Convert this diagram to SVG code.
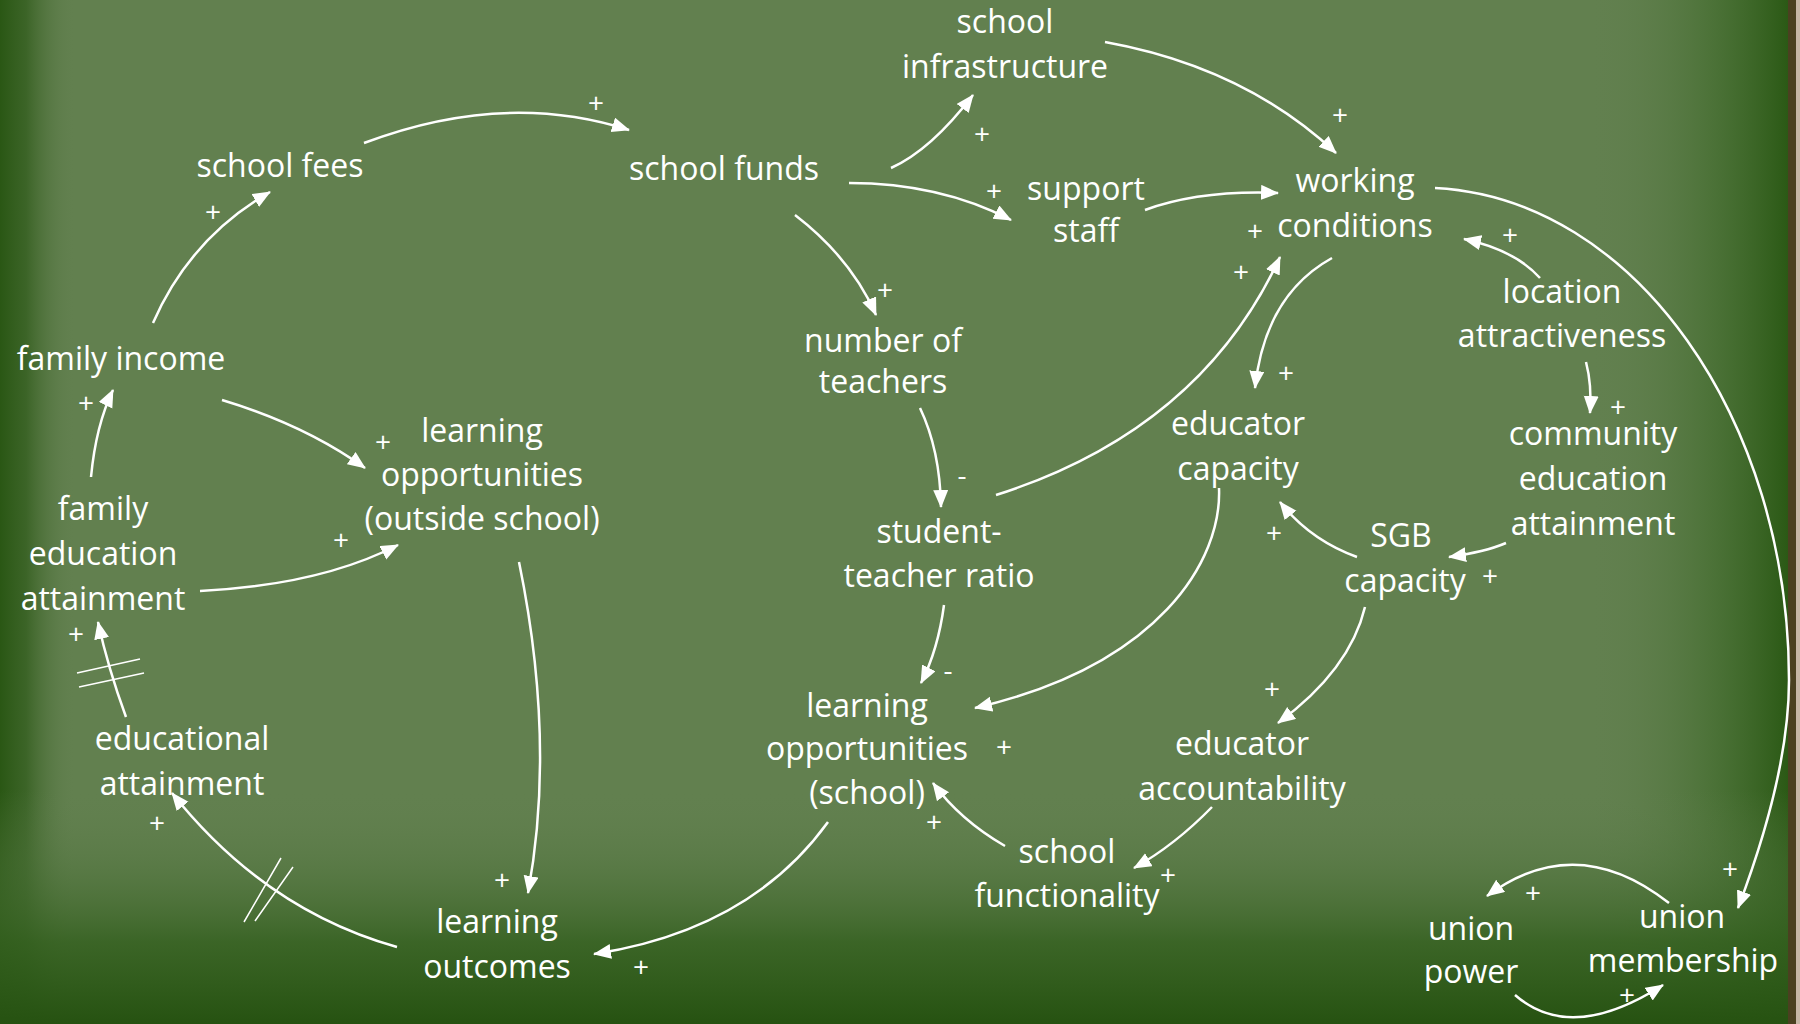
<svg xmlns="http://www.w3.org/2000/svg" width="1800" height="1024" viewBox="0 0 1800 1024">
<defs>
<linearGradient id="gl" x1="0" y1="0" x2="1" y2="0">
<stop offset="0" stop-color="#2a5714" stop-opacity="1"/>
<stop offset="0.35" stop-color="#2f5b1a" stop-opacity="0.75"/>
<stop offset="1" stop-color="#62804f" stop-opacity="0"/>
</linearGradient>
<linearGradient id="gr" x1="0" y1="0" x2="1" y2="0">
<stop offset="0" stop-color="#62804f" stop-opacity="0"/>
<stop offset="0.6" stop-color="#3f6a2a" stop-opacity="0.6"/>
<stop offset="1" stop-color="#2b5915" stop-opacity="1"/>
</linearGradient>
<linearGradient id="gb" x1="0" y1="0" x2="0" y2="1">
<stop offset="0" stop-color="#62804f" stop-opacity="0"/>
<stop offset="0.3" stop-color="#4f733c" stop-opacity="0.4"/>
<stop offset="0.65" stop-color="#34601f" stop-opacity="0.85"/>
<stop offset="1" stop-color="#265211" stop-opacity="1"/>
</linearGradient>
<marker id="ah" markerUnits="userSpaceOnUse" markerWidth="20" markerHeight="16" refX="17" refY="7.5" orient="auto" viewBox="0 0 20 16">
<path d="M0,0 L18,7.5 L0,15 z" fill="#ffffff"/>
</marker>
<style>
.t{font-family:"Open Sans","Noto Sans","Liberation Sans",sans-serif;font-size:32px;fill:#ffffff;text-anchor:middle}
.s{font-family:"Open Sans","Noto Sans","Liberation Sans",sans-serif;font-size:28px;fill:#ffffff;text-anchor:middle}
.c{fill:none;stroke:#ffffff;stroke-width:2.5;marker-end:url(#ah)}
.h{fill:none;stroke:#ffffff;stroke-width:1.5}
</style>
</defs>
<rect x="0" y="0" width="1800" height="1024" fill="#62804f"/>
<rect x="0" y="0" width="75" height="1024" fill="url(#gl)"/>
<rect x="1590" y="0" width="198" height="1024" fill="url(#gr)"/>
<rect x="0" y="790" width="1788" height="234" fill="url(#gb)"/>
<rect x="1788" y="0" width="8" height="1024" fill="#4a4020"/>
<rect x="1796" y="0" width="4" height="1024" fill="#c6b6a6"/>

<g id="connectors">
<path class="c" d="M153,323 Q190,238 270,192"/>
<path class="c" d="M364,143 Q504,90 629,130"/>
<path class="c" d="M891,168 Q931,150 973,95"/>
<path class="c" d="M849,183 Q940,183 1011,220"/>
<path class="c" d="M795,215 Q851,258 876,315"/>
<path class="c" d="M1105,42 Q1244,67 1336,153"/>
<path class="c" d="M1145,210 Q1200,190 1278,193"/>
<path class="c" d="M996,495 Q1200,430 1280,257"/>
<path class="c" d="M1332,258 Q1265,295 1255,388"/>
<path class="c" d="M1540,278 Q1515,250 1464,239"/>
<path class="c" d="M1435,188 C1635,198 1789,420 1789,680 C1789,760 1760,850 1738,908"/>
<path class="c" d="M1586,362 Q1592,385 1590,413"/>
<path class="c" d="M1506,543 Q1485,552 1449,557"/>
<path class="c" d="M1357,557 Q1310,540 1280,502"/>
<path class="c" d="M1219,488 C1222,560 1160,665 975,708"/>
<path class="c" d="M1365,607 Q1350,670 1278,723"/>
<path class="c" d="M1212,807 Q1175,845 1134,868"/>
<path class="c" d="M1005,846 Q960,820 933,783"/>
<path class="c" d="M920,408 Q940,450 941,507"/>
<path class="c" d="M944,605 Q938,650 921,683"/>
<path class="c" d="M828,822 Q750,930 594,954"/>
<path class="c" d="M519,562 Q556,742 528,893"/>
<path class="c" d="M397,947 Q265,910 172,793"/>
<path class="c" d="M126,717 Q108,668 98,622"/>
<path class="c" d="M91,477 Q96,425 113,390"/>
<path class="c" d="M222,400 Q305,425 365,468"/>
<path class="c" d="M200,591 Q320,585 398,545"/>
<path class="c" d="M1669,903 Q1576,830 1487,896"/>
<path class="c" d="M1515,995 Q1571,1044 1663,985"/>
<path class="h" d="M244,922 L281,858 M255,921 L293,867"/>
<path class="h" d="M77,673 L140,659 M79,687 L144,673"/>
</g>

<g id="polarities">
<text class="s" x="596" y="113">+</text>
<text class="s" x="213" y="222">+</text>
<text class="s" x="982" y="144">+</text>
<text class="s" x="994" y="201">+</text>
<text class="s" x="885" y="300">+</text>
<text class="s" x="1340" y="125">+</text>
<text class="s" x="1255" y="241">+</text>
<text class="s" x="1241" y="282">+</text>
<text class="s" x="1510" y="245">+</text>
<text class="s" x="1286" y="383">+</text>
<text class="s" x="1618" y="417">+</text>
<text class="s" x="383" y="452">+</text>
<text class="s" x="341" y="550">+</text>
<text class="s" x="86" y="413">+</text>
<text class="s" x="76" y="644">+</text>
<text class="s" x="1274" y="543">+</text>
<text class="s" x="1490" y="586">+</text>
<text class="s" x="1272" y="699">+</text>
<text class="s" x="1004" y="757">+</text>
<text class="s" x="934" y="832">+</text>
<text class="s" x="1168" y="885">+</text>
<text class="s" x="157" y="833">+</text>
<text class="s" x="502" y="890">+</text>
<text class="s" x="641" y="977">+</text>
<text class="s" x="1730" y="879">+</text>
<text class="s" x="1533" y="903">+</text>
<text class="s" x="1627" y="1005">+</text>
<text class="s" x="962" y="485">-</text>
<text class="s" x="948" y="680">-</text>
</g>

<g id="school_infrastructure"><text class="t"><tspan x="1005" y="33">school</tspan><tspan x="1005" y="78">infrastructure</tspan></text></g>
<g id="school_fees"><text class="t" x="280" y="177">school fees</text></g>
<g id="school_funds"><text class="t" x="724" y="180">school funds</text></g>
<g id="support_staff"><text class="t"><tspan x="1086" y="200">support</tspan><tspan x="1086" y="242">staff</tspan></text></g>
<g id="working_conditions"><text class="t"><tspan x="1355" y="192">working</tspan><tspan x="1355" y="237">conditions</tspan></text></g>
<g id="location_attractiveness"><text class="t"><tspan x="1562" y="303">location</tspan><tspan x="1562" y="347">attractiveness</tspan></text></g>
<g id="family_income"><text class="t" x="121" y="370">family income</text></g>
<g id="number_of_teachers"><text class="t"><tspan x="883" y="352">number of</tspan><tspan x="883" y="393">teachers</tspan></text></g>
<g id="learning_opportunities_outside"><text class="t"><tspan x="482" y="442">learning</tspan><tspan x="482" y="486">opportunities</tspan><tspan x="482" y="530">(outside school)</tspan></text></g>
<g id="family_education_attainment"><text class="t"><tspan x="103" y="520">family</tspan><tspan x="103" y="565">education</tspan><tspan x="103" y="610">attainment</tspan></text></g>
<g id="educator_capacity"><text class="t"><tspan x="1238" y="435">educator</tspan><tspan x="1238" y="480">capacity</tspan></text></g>
<g id="community_education_attainment"><text class="t"><tspan x="1593" y="445">community</tspan><tspan x="1593" y="490">education</tspan><tspan x="1593" y="535">attainment</tspan></text></g>
<g id="student_teacher_ratio"><text class="t"><tspan x="939" y="543">student-</tspan><tspan x="939" y="587">teacher ratio</tspan></text></g>
<g id="sgb_capacity"><text class="t"><tspan x="1401" y="547">SGB</tspan><tspan x="1405" y="592">capacity</tspan></text></g>
<g id="learning_opportunities_school"><text class="t"><tspan x="867" y="717">learning</tspan><tspan x="867" y="760">opportunities</tspan><tspan x="867" y="804">(school)</tspan></text></g>
<g id="educator_accountability"><text class="t"><tspan x="1242" y="755">educator</tspan><tspan x="1242" y="800">accountability</tspan></text></g>
<g id="educational_attainment"><text class="t"><tspan x="182" y="750">educational</tspan><tspan x="182" y="795">attainment</tspan></text></g>
<g id="school_functionality"><text class="t"><tspan x="1067" y="863">school</tspan><tspan x="1067" y="907">functionality</tspan></text></g>
<g id="learning_outcomes"><text class="t"><tspan x="497" y="933">learning</tspan><tspan x="497" y="978">outcomes</tspan></text></g>
<g id="union_power"><text class="t"><tspan x="1471" y="940">union</tspan><tspan x="1471" y="983">power</tspan></text></g>
<g id="union_membership"><text class="t"><tspan x="1682" y="928">union</tspan><tspan x="1683" y="972">membership</tspan></text></g>
</svg>
